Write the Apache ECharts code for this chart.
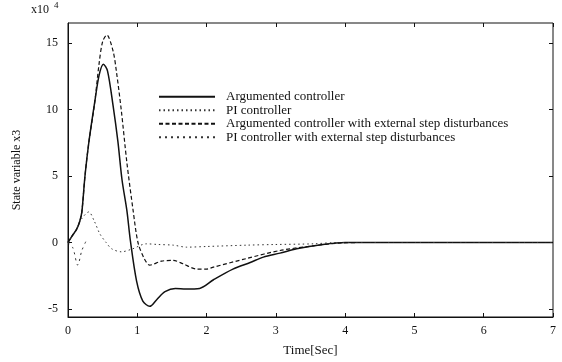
<!DOCTYPE html>
<html>
<head>
<meta charset="utf-8">
<script src="https://cdn.jsdelivr.net/npm/echarts@6/dist/echarts.min.js"></script>
<style>
  html, body { margin: 0; padding: 0; background: #fff; }
  #chart { width: 562px; height: 362px; }
</style>
</head>
<body>
<div id="chart"></div>
<script>
// values are in units of x10^4
var argT = [0, 0.06, 0.125, 0.17, 0.2, 0.245, 0.3, 0.39, 0.45, 0.51, 0.57, 0.65, 0.72, 0.78, 0.85, 0.9, 0.99, 1.08, 1.18, 1.28, 1.4, 1.55, 1.7, 1.9, 2.1, 2.38, 2.63, 2.82, 3.06, 3.3, 3.68, 4.0, 5, 7];
var argX = [0, 0.5, 1.0, 1.6, 2.3, 5.0, 7.5, 10.7, 12.6, 13.4, 12.9, 10.3, 7.6, 4.7, 2.4, 0.15, -2.9, -4.4, -4.8, -4.3, -3.7, -3.45, -3.5, -3.45, -2.8, -2.0, -1.5, -1.1, -0.8, -0.47, -0.15, 0, 0, 0];

var piT = [0, 0.1, 0.2, 0.3, 0.38, 0.46, 0.55, 0.63, 0.77, 0.92, 1.13, 1.3, 1.52, 1.71, 2.0, 2.58, 3.0, 3.54, 3.9, 7];
var piX = [0, 0.8, 1.8, 2.3, 1.6, 0.65, 0, -0.47, -0.7, -0.5, -0.1, -0.15, -0.2, -0.35, -0.3, -0.2, -0.15, -0.1, 0, 0];

var argDistT = [0, 0.06, 0.125, 0.17, 0.2, 0.245, 0.3, 0.38, 0.45, 0.5, 0.56, 0.65, 0.7, 0.77, 0.85, 0.94, 1.01, 1.1, 1.18, 1.35, 1.52, 1.66, 1.86, 2.0, 2.1, 2.58, 3.06, 3.54, 3.9, 4.2, 7];
var argDistX = [0, 0.5, 1.0, 1.6, 2.3, 5.0, 7.5, 10.3, 13.5, 15.1, 15.6, 14.4, 12.8, 9.9, 6.0, 2.4, 0, -1.2, -1.7, -1.4, -1.35, -1.6, -2.0, -2.0, -1.85, -1.2, -0.6, -0.25, -0.05, 0, 0];

var piDistT = [0, 0.07, 0.14, 0.2, 0.26];
var piDistX = [0, -0.4, -1.7, -0.6, 0.1];

var names = [
    'Argumented controller',
    'PI controller',
    'Argumented controller with external step disturbances',
    'PI controller with external step disturbances'
];
var yTicks = [-5, 0, 5, 10, 15];

function pairs(t, x) {
    var out = [];
    for (var i = 0; i < t.length; i++) {
        out.push([t[i], x[i]]);
    }
    return out;
}

var font = 'Liberation Serif, Times New Roman, serif';
var chart = echarts.init(document.getElementById('chart'));

chart.setOption({
    backgroundColor: '#fff',
    animation: false,
    textStyle: { fontFamily: font, color: '#111' },
    grid: {
        left: 68, right: 9, top: 23, bottom: 45,
        show: true, borderColor: '#111', borderWidth: 1
    },
    graphic: [
        { type: 'text', left: 31, top: 4, style: { text: 'x10', font: '12px ' + font, fill: '#111' } },
        { type: 'text', left: 54, top: 1, style: { text: '4', font: '9px ' + font, fill: '#111' } }
    ],
    legend: {
        orient: 'vertical',
        left: 158, top: 90, padding: 0,
        itemWidth: 56, itemHeight: 10,
        itemGap: 0,
        itemStyle: { opacity: 0 },
        textStyle: { fontSize: 13, lineHeight: 13.5, fontFamily: font, color: '#111', padding: [0, 0, 0, 6] },
        data: names
    },
    xAxis: [{
        type: 'value', min: 0, max: 7, interval: 1,
        name: 'Time[Sec]', nameLocation: 'middle', nameGap: 27,
        nameTextStyle: { fontSize: 13, fontFamily: font, color: '#111' },
        axisLine: { onZero: false, lineStyle: { color: '#111' } },
        axisTick: { inside: true, length: 4, lineStyle: { color: '#111' } },
        axisLabel: { fontSize: 12, color: '#111', margin: 8 },
        splitLine: { show: false }
    }, {
        type: 'value', position: 'top', min: 0, max: 7, interval: 1,
        axisLine: { show: false, onZero: false },
        axisTick: { inside: true, length: 4, lineStyle: { color: '#111' } },
        axisLabel: { show: false },
        splitLine: { show: false }
    }],
    yAxis: [{
        type: 'value', min: -5.6, max: 16.5,
        name: 'State variable x3', nameLocation: 'middle', nameGap: 45, nameRotate: 90,
        nameTextStyle: { fontSize: 12, fontFamily: font, color: '#111' },
        axisLine: { show: true, onZero: false, lineStyle: { color: '#111' } },
        axisTick: { show: true, inside: true, length: 4, customValues: yTicks, lineStyle: { color: '#111' } },
        axisLabel: { fontSize: 12, color: '#111', margin: 10, customValues: yTicks },
        splitLine: { show: false }
    }, {
        type: 'value', position: 'right', min: -5.6, max: 16.5,
        axisLine: { show: false, onZero: false },
        axisTick: { show: true, inside: true, length: 4, customValues: yTicks, lineStyle: { color: '#111' } },
        axisLabel: { show: false, customValues: yTicks },
        splitLine: { show: false }
    }],
    series: [{
        name: names[0], type: 'line', symbol: 'none', smooth: 0.3,
        lineStyle: { color: '#111', width: 1.5, type: 'solid' },
        itemStyle: { color: '#111' },
        data: pairs(argT, argX)
    }, {
        name: names[1], type: 'line', symbol: 'none', smooth: 0.3,
        lineStyle: { color: '#333', width: 1, type: [1.5, 3] },
        itemStyle: { color: '#333' },
        data: pairs(piT, piX)
    }, {
        name: names[2], type: 'line', symbol: 'none', smooth: 0.3,
        lineStyle: { color: '#111', width: 1.2, type: [4, 2.5] },
        itemStyle: { color: '#111' },
        data: pairs(argDistT, argDistX)
    }, {
        name: names[3], type: 'line', symbol: 'none', smooth: 0.3,
        lineStyle: { color: '#333', width: 1, type: [2, 4] },
        itemStyle: { color: '#333' },
        data: pairs(piDistT, piDistX)
    }]
});
</script>
</body>
</html>
